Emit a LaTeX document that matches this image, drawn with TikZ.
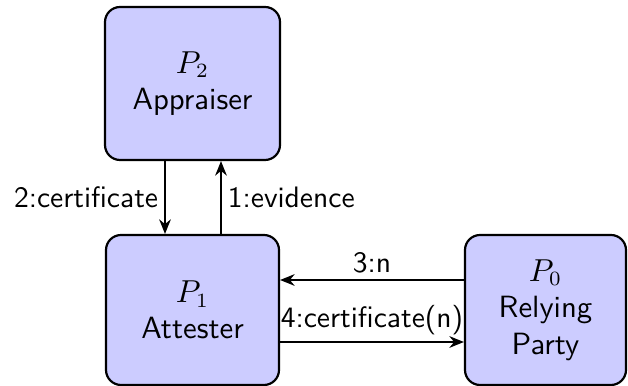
\documentclass[tikz,border=0pt]{standalone}
\usetikzlibrary{arrows.meta}
\begin{document}
\begin{tikzpicture}[x=0.345pt,y=-0.345pt,
  party/.style={draw=black, line width=0.75pt, fill=blue!20, rounded corners=5.2pt,
    align=center, inner sep=0pt, font=\sffamily\fontsize{10.6}{12.6}\selectfont},
  msg/.style={-{Stealth[length=5pt,width=4pt]}, line width=0.75pt},
  lbl/.style={font=\sffamily\fontsize{10.2}{12}\selectfont, inner sep=2pt}]
  \useasboundingbox (0,0) rectangle (628,386);
  % the three parties
  \node[party, minimum width=175*0.345pt, minimum height=153*0.345pt] (p2) at (192.5,83.5) {$P_2$\\Appraiser};
  \node[party, minimum width=173*0.345pt, minimum height=150*0.345pt] (p1) at (192.5,310) {$P_1$\\Attester};
  \node[party, minimum width=161*0.345pt, minimum height=150*0.345pt] (p0) at (545.5,310) {$P_0$\\Relying\\Party};
  % messages between appraiser and attester
  \draw[msg] ([xshift=-27.5*0.345pt]p2.south) -- node[lbl, left] {2:certificate} ([xshift=-27.5*0.345pt]p1.north);
  \draw[msg] ([xshift=28.5*0.345pt]p1.north) -- node[lbl, right] {1:evidence} ([xshift=28.5*0.345pt]p2.south);
  % messages between relying party and attester
  \draw[msg] ([yshift=30*0.345pt]p0.west) -- node[lbl, above] {3:n} ([yshift=30*0.345pt]p1.east);
  \draw[msg] ([yshift=-32*0.345pt]p1.east) -- node[lbl, above] {4:certificate(n)} ([yshift=-32*0.345pt]p0.west);
\end{tikzpicture}
\end{document}
